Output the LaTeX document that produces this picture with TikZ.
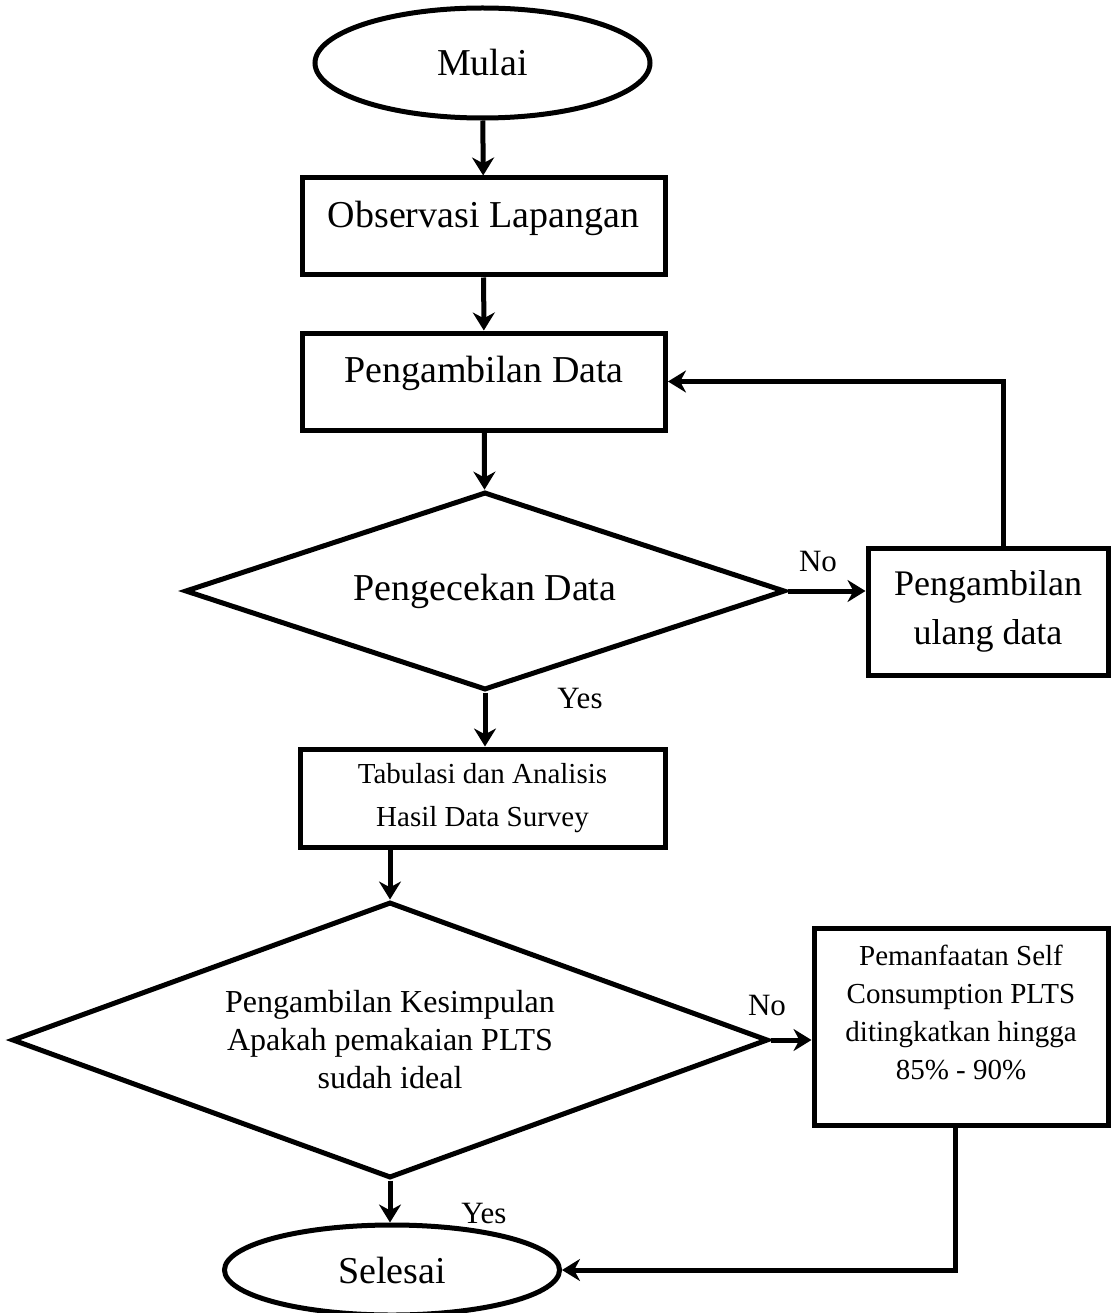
\documentclass[tikz,border=0pt]{standalone}
\usepackage{fontspec}
\setmainfont{Liberation Serif}
\usetikzlibrary{shapes.geometric,arrows.meta}
\begin{document}
\begin{tikzpicture}[x=1pt,y=-1pt,
  box/.style={draw,line width=5pt,rectangle,inner sep=0pt,align=center},
  term/.style={draw,line width=5pt,ellipse,inner sep=0pt},
  dec/.style={draw,line width=5pt,diamond,inner sep=0pt,align=center},
  arr/.style={line width=5pt,-{Stealth[length=18pt,width=22pt]}},
  lbl/.style={font=\fontsize{31}{31}\selectfont,inner sep=0pt},
  big/.style={font=\fontsize{38}{44}\selectfont},
  mid/.style={font=\fontsize{36}{49}\selectfont},
  small/.style={font=\fontsize{29}{43}\selectfont},
  tiny/.style={font=\fontsize{29}{38}\selectfont},
  dtext/.style={font=\fontsize{32}{38}\selectfont}]
\useasboundingbox (0,0) rectangle (1111,1313);
\fill[white] (0,0) rectangle (1111,1313);

\node[term,big,minimum width=335,minimum height=110] (start) at (482.5,63) {Mulai};
\node[box,big,minimum width=363,minimum height=97,text depth=24pt] (obs) at (483.5,226.5) {Observasi Lapangan};
\node[box,big,minimum width=363,minimum height=97,text depth=24pt] (peng) at (484,381.5) {Pengambilan Data};
\node[dec,big,aspect=3.03,minimum width=600,minimum height=198] (d1) at (485,591) {Pengecekan Data};
\node[box,mid,minimum width=240,minimum height=127] (ulang) at (988,611.5) {Pengambilan\\ulang data};
\node[box,small,minimum width=365,minimum height=98] (tab) at (482.5,798) {Tabulasi dan Analisis\\Hasil Data Survey};
\node[dec,dtext,aspect=2.74,minimum width=756,minimum height=276] (d2) at (390,1040) {Pengambilan Kesimpulan\\Apakah pemakaian PLTS\\sudah ideal};
\node[box,tiny,minimum width=294,minimum height=197,text depth=28pt] (pem) at (961,1026.5) {Pemanfaatan Self\\Consumption PLTS\\ditingkatkan hingga\\85\% - 90\%};
\node[term,big,minimum width=335,minimum height=90] (sel) at (392,1270) {Selesai};

\draw[arr] (start) -- (obs);
\draw[arr] (obs) -- (peng);
\draw[arr] (peng) -- (d1);
\draw[arr] (d1.east) -- (d1.east -| ulang.west);
\draw[arr] ([xshift=15pt]ulang.north) |- (peng.east);
\draw[arr] (d1.south) -- (tab.north -| d1.south);
\draw[arr] (tab.south -| d2.north) -- (d2.north);
\draw[arr] (d2.east) -- (pem.west |- d2.east);
\draw[arr] (d2.south) -- (sel.north -| d2.south);
\draw[arr] ([xshift=-6pt]pem.south) |- (sel.east);

\node[lbl] (no1) at (818,561) {No};
\node[lbl] (yes1) at (580,698) {Yes};
\node[lbl] (no2) at (767,1005) {No};
\node[lbl] (yes2) at (484,1213) {Yes};
\end{tikzpicture}
\end{document}
